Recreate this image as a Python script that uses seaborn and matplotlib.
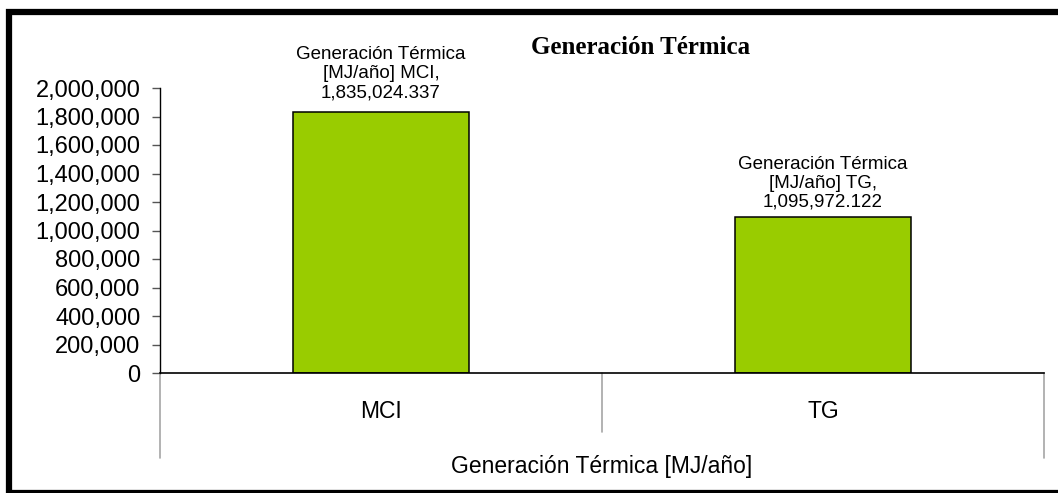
import matplotlib
matplotlib.use("Agg")
import matplotlib.pyplot as plt
import matplotlib.transforms as mtransforms
from matplotlib.patches import Rectangle
import seaborn as sns
import pandas as pd

categories = ["MCI", "TG"]
values = [1835024.337, 1095972.122]
series_name = "Generación Térmica [MJ/año]"
title = "Generación Térmica"
yticks = list(range(0, 2000001, 200000))

sns.set_theme(style="white")
plt.rcParams["font.family"] = ["Liberation Sans", "DejaVu Sans"]

df = pd.DataFrame({"cat": categories, "val": values})

W, H = 1058, 493
fig = plt.figure(figsize=(W / 100, H / 100), dpi=100)
fig.patch.set_facecolor("white")
ax = fig.add_axes([160 / W, (H - 373) / H, (1044 - 160) / W, (373 - 88) / H])

sns.barplot(data=df, x="cat", y="val", color="#99CC00", edgecolor="black",
            linewidth=1.1, width=0.4, saturation=1, ax=ax)

ax.set_xlim(-0.5, 1.5)
ax.set_ylim(0, 2000000)
ax.set_yticks(yticks)
ax.set_yticklabels([f"{t:,}" for t in yticks], fontsize=17, color="black")
ax.tick_params(axis="y", direction="out", length=6, width=1, color="#555555",
               left=True, pad=8)
ax.set_xticks([])
ax.set_xlabel("")
ax.set_ylabel("")
for s in ["top", "right"]:
    ax.spines[s].set_visible(False)
ax.spines["left"].set_color("black")
ax.spines["left"].set_linewidth(1)
ax.spines["bottom"].set_color("black")
ax.spines["bottom"].set_linewidth(1.2)

# multi-level category axis
tr = mtransforms.blended_transform_factory(ax.transData, ax.transAxes)
ax.plot([-0.5, -0.5], [0, -(458 - 373) / 285], transform=tr, color="#A6A6A6",
        lw=1.2, clip_on=False)
ax.plot([1.5, 1.5], [0, -(458 - 373) / 285], transform=tr, color="#A6A6A6",
        lw=1.2, clip_on=False)
ax.plot([0.5, 0.5], [0, -(432 - 373) / 285], transform=tr, color="#A6A6A6",
        lw=1.2, clip_on=False)
for i, c in enumerate(categories):
    ax.text(i, -(411 - 373) / 285, c, transform=tr, ha="center", va="center",
            fontsize=16.5, color="black")
ax.text(0.5, -(466 - 373) / 285, series_name, transform=ax.transAxes,
        ha="center", va="center", fontsize=16.5, color="black")

# data labels
pads = [7.5, 4.5]
for i, (c, v) in enumerate(zip(categories, values)):
    ax.annotate(f"Generación Térmica\n[MJ/año] {c},\n{v:,.3f}", xy=(i, v),
                xytext=(0, pads[i]), textcoords="offset points", ha="center",
                va="bottom", fontsize=13.5, color="black", linespacing=1.15,
                multialignment="center")

fig.text(641 / W, 1 - 47 / H, title, ha="center", va="center", fontsize=18,
         fontweight="bold", family=["Liberation Serif", "DejaVu Serif"], color="black")

# thick chart border
fig.patches.append(Rectangle((8.5 / W, 1 - 493 / H), (1070 - 8.5) / W, (493 - 12) / H,
                             transform=fig.transFigure, fill=False,
                             edgecolor="black", linewidth=4.5))

fig.savefig("out.png", dpi=100, facecolor="white")
